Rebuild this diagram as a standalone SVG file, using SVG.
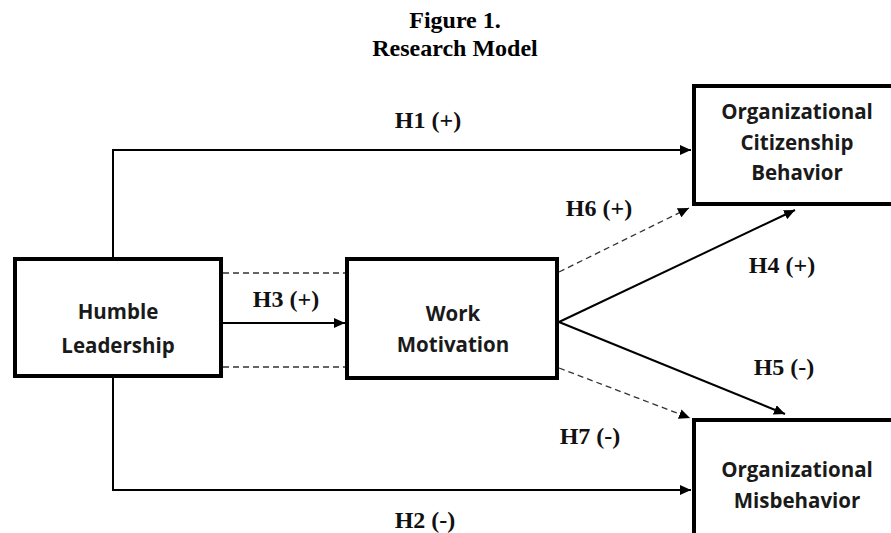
<svg xmlns="http://www.w3.org/2000/svg" width="891" height="533" viewBox="0 0 891 533">
<defs>
<style>
.box{fill:#fff;stroke:#000;stroke-width:4}
.node{font-family:"Open Sans","Noto Sans",sans-serif;font-weight:bold;font-size:20.5px;fill:#1a1a1a;text-anchor:middle}
.lbl{font-family:"Liberation Serif","Times New Roman",serif;font-weight:bold;font-size:24px;fill:#111;text-anchor:middle}
.title{font-family:"Liberation Serif","Times New Roman",serif;font-weight:bold;font-size:24px;fill:#000;text-anchor:middle}
.solid{fill:none;stroke:#000;stroke-width:2}
.dash{fill:none;stroke:#333;stroke-width:1.3;stroke-dasharray:6 4}
</style>
<marker id="ah" markerUnits="userSpaceOnUse" markerWidth="12" markerHeight="10" refX="11" refY="5" orient="auto">
<path d="M0,0 L11,5 L0,10 z" fill="#000"/>
</marker>
</defs>
<rect width="891" height="533" fill="#fff"/>
<g id="title">
<text class="title" x="455" y="28">Figure 1.</text>
<text class="title" x="455" y="56">Research Model</text>
</g>
<g id="connectors">
<path class="solid" d="M113,257 V150 H691" marker-end="url(#ah)"/>
<path class="solid" d="M113,378 V490 H691" marker-end="url(#ah)"/>
<path class="solid" d="M223,323 H345" marker-end="url(#ah)"/>
<path class="dash" d="M223,273 H345"/>
<path class="dash" d="M223,367 H345"/>
<path class="solid" d="M559,322 L795,210" marker-end="url(#ah)"/>
<path class="solid" d="M559,322 L785,414" marker-end="url(#ah)"/>
<path class="dash" d="M559,272 L689,208" marker-end="url(#ah)"/>
<path class="dash" d="M559,368 L690,418" marker-end="url(#ah)"/>
</g>
<g id="labels">
<text class="lbl" x="428" y="128">H1 (+)</text>
<text class="lbl" x="286" y="307">H3 (+)</text>
<text class="lbl" x="599" y="216">H6 (+)</text>
<text class="lbl" x="782" y="273">H4 (+)</text>
<text class="lbl" x="784" y="375">H5 (-)</text>
<text class="lbl" x="590" y="444">H7 (-)</text>
<text class="lbl" x="425" y="528">H2 (-)</text>
</g>
<g id="humble-leadership">
<rect class="box" x="15" y="259" width="206" height="117"/>
<text class="node" x="118" y="319">Humble</text>
<text class="node" x="118" y="353">Leadership</text>
</g>
<g id="work-motivation">
<rect class="box" x="347" y="259" width="210" height="119"/>
<text class="node" x="453" y="321">Work</text>
<text class="node" x="453" y="352">Motivation</text>
</g>
<g id="ocb">
<rect class="box" x="694" y="86" width="210" height="118"/>
<text class="node" x="797" y="119">Organizational</text>
<text class="node" x="797" y="150">Citizenship</text>
<text class="node" x="797" y="180">Behavior</text>
</g>
<g id="om">
<rect class="box" x="694" y="420" width="210" height="130"/>
<text class="node" x="797" y="477">Organizational</text>
<text class="node" x="797" y="508">Misbehavior</text>
</g>
</svg>
